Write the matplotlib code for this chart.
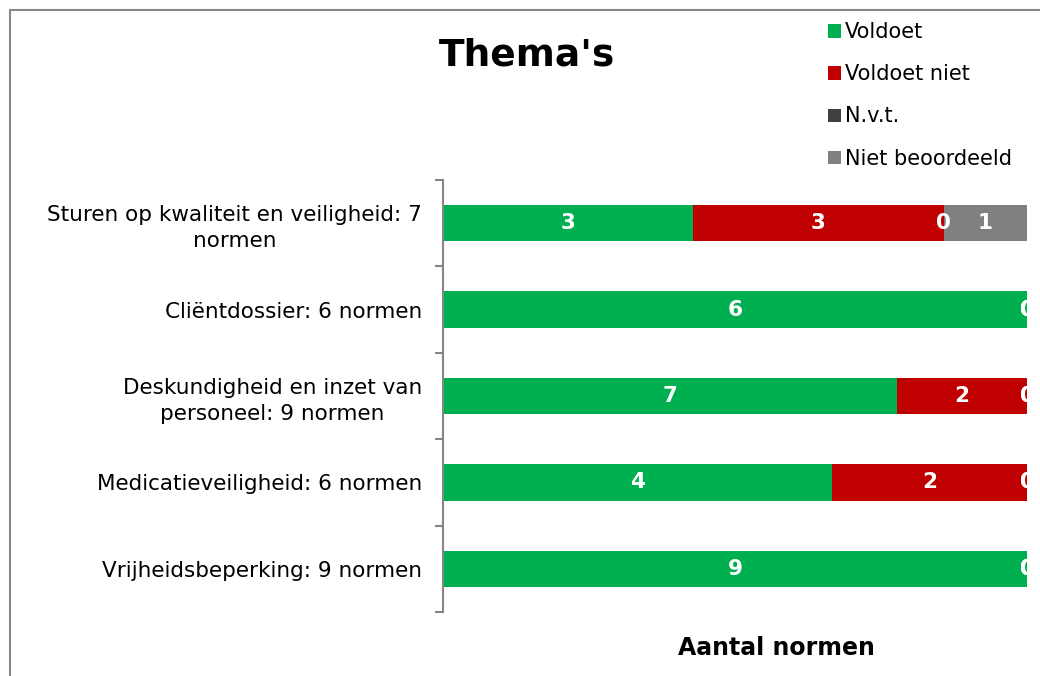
import matplotlib.pyplot as plt
from matplotlib.patches import Patch, Rectangle
import numpy as np

plt.rcParams["font.family"] = ["DejaVu Sans"]

categories = [
    "Sturen op kwaliteit en veiligheid: 7\nnormen",
    "Cliëntdossier: 6 normen",
    "Deskundigheid en inzet van\npersoneel: 9 normen",
    "Medicatieveiligheid: 6 normen",
    "Vrijheidsbeperking: 9 normen",
]
series_names = ["Voldoet", "Voldoet niet", "N.v.t.", "Niet beoordeeld"]
voldoet = [3, 6, 7, 4, 9]
voldoet_niet = [3, 0, 2, 2, 0]
nvt = [0, 0, 0, 0, 0]
niet_beoordeeld = [1, 0, 0, 0, 0]
colors = ["#00B050", "#C00000", "#404040", "#808080"]

series = [voldoet, voldoet_niet, nvt, niet_beoordeeld]
counts = np.array(series, dtype=float)
totals = counts.sum(axis=0)
shares = counts / totals

fig = plt.figure(figsize=(10.4, 6.76), dpi=100)
ax = fig.add_axes([443 / 1040, 1 - 612 / 676, (1027 - 443) / 1040, (612 - 180) / 676])

y = np.arange(len(categories))
left = np.zeros(len(categories))
for name, share, cnt, col in zip(series_names, shares, counts, colors):
    ax.barh(y, share, left=left, height=0.42, color=col, label=name)
    for yi, l, s, c in zip(y, left, share, cnt):
        ax.text(l + s / 2, yi, f"{int(c)}", ha="center", va="center",
                color="white", fontsize=15.5, fontweight="bold", clip_on=True)
    left += share

ax.set_xlim(0, 1)
ax.set_ylim(len(categories) - 0.5, -0.5)
ax.set_yticks(y)
ax.set_yticklabels(categories, fontsize=15.5, multialignment="center", linespacing=1.35)
ax.set_yticks(np.arange(-0.5, len(categories)), minor=True)
ax.tick_params(axis="y", which="major", length=0, pad=15)
ax.tick_params(axis="y", which="minor", length=6, width=1.5, color="#868686", direction="out")
ax.set_xticks([])
for side in ["top", "right", "bottom"]:
    ax.spines[side].set_visible(False)
ax.spines["left"].set_color("#868686")
ax.spines["left"].set_linewidth(1.5)

fig.text(527 / 1040, 1 - 55 / 676, "Thema's", ha="center", va="center",
         fontsize=27, fontweight="bold")
fig.text(776 / 1040, 1 - 648 / 676, "Aantal normen", ha="center", va="center",
         fontsize=17, fontweight="bold")

handles = [Patch(facecolor=c, edgecolor="none") for c in colors]
fig.legend(handles, series_names, loc="upper left", bbox_to_anchor=(820 / 1040, 1 - 14 / 676),
           frameon=False, fontsize=15, handlelength=0.6, handleheight=0.6,
           handletextpad=0.2, labelspacing=1.06, borderaxespad=0)

fig.patches.append(Rectangle((10 / 1040, -0.1), 1.2, 1 - 10 / 676 + 0.1,
                             transform=fig.transFigure, fill=False,
                             edgecolor="#888888", linewidth=1.5))

fig.savefig("out.png", dpi=100)
